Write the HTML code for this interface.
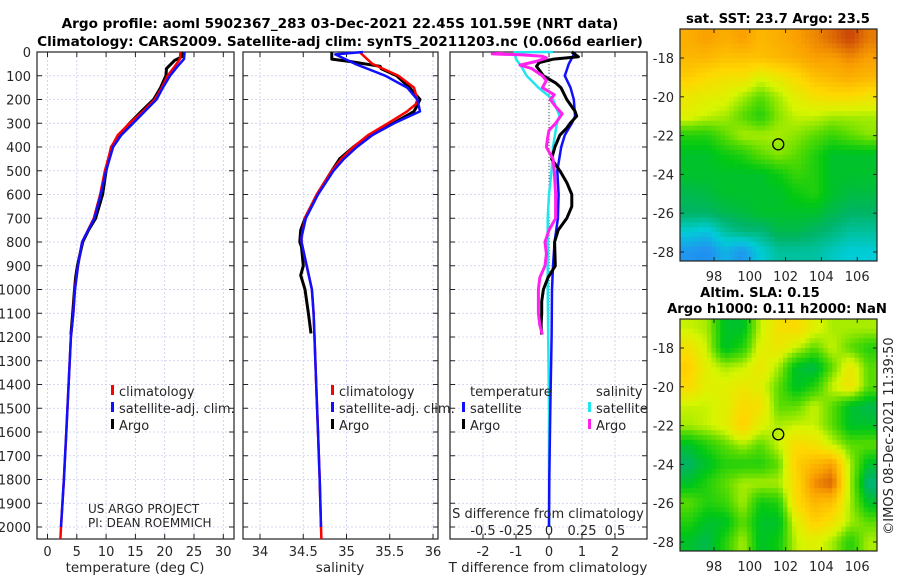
<!DOCTYPE html>
<html><head><meta charset="utf-8">
<style>
html,body{margin:0;padding:0;background:#fff;}
svg{display:block;font-family:"DejaVu Sans","Liberation Sans",sans-serif;}
</style></head>
<body>
<svg id="fig" width="900" height="580" viewBox="0 0 900 580" xmlns="http://www.w3.org/2000/svg">
<g id="bg"></g>
</svg>
<script>
// ---------- DATA ----------
const depthTicks = [0,100,200,300,400,500,600,700,800,900,1000,1100,1200,1300,1400,1500,1600,1700,1800,1900,2000];
const tempTicks = [0,5,10,15,20,25,30];
const salTicks = [34,34.5,35,35.5,36];
const salTickLabels = ["34","34.5","35","35.5","36"];
const tdiffTicks = [-2,-1,0,1,2];
const sdiffTicks = [-0.5,-0.25,0,0.25,0.5];
const sdiffTickLabels = ["-0.5","-0.25","0","0.25","0.5"];

const climTempDepth = [0,30,60,100,150,200,250,300,350,400,500,600,700,800,900,1000,1100,1200,1400,1600,1800,2000,2050];
const climTempVal   = [22.7,22.6,21.7,20.5,19.5,18.3,16.3,14.0,12.0,10.9,9.8,9.0,7.9,5.9,5.2,4.65,4.4,4.0,3.6,3.2,2.8,2.3,2.2];
const satTempDepth  = [0,30,60,100,150,200,250,300,350,400,500,600,700,800,900,1000,1100,1200,1400,1600,1800,2000];
const satTempVal    = [23.4,23.3,22.2,20.9,19.7,18.6,16.6,14.6,12.6,11.2,10.0,9.1,8.0,5.9,5.2,4.7,4.4,4.0,3.6,3.2,2.8,2.3];
const argoTempDepth = [0,20,35,70,100,150,200,250,300,350,400,500,600,700,750,800,900,950,1000,1100,1190];
const argoTempVal   = [23.0,22.9,21.7,20.3,20.2,19.3,18.1,16.0,14.0,12.3,10.9,10.0,9.4,8.2,7.0,6.0,5.1,4.8,4.6,4.3,4.0];

const climSalDepth = [0,50,100,150,200,220,250,300,350,400,450,500,600,700,780,800,850,900,1000,1100,1200,1400,1600,1800,2000,2050];
const climSalVal   = [35.15,35.3,35.6,35.78,35.82,35.8,35.7,35.48,35.25,35.08,34.94,34.83,34.655,34.52,34.48,34.48,34.51,34.54,34.6,34.62,34.63,34.65,34.67,34.69,34.705,34.71];
const satSalDepth  = [0,10,50,100,150,200,250,300,350,400,450,500,600,700,780,800,850,900,1000,1100,1200,1400,1600,1800,2000];
const satSalVal    = [35.19,34.87,35.1,35.45,35.7,35.82,35.85,35.55,35.3,35.12,34.97,34.85,34.67,34.53,34.48,34.48,34.51,34.54,34.6,34.62,34.63,34.65,34.67,34.69,34.705];
const argoSalDepth = [0,30,40,60,70,100,150,200,230,250,300,350,400,450,500,600,700,750,800,820,900,940,1000,1100,1185];
const argoSalVal   = [34.83,34.83,35.04,35.39,35.4,35.58,35.73,35.85,35.81,35.78,35.54,35.27,35.08,34.92,34.83,34.66,34.52,34.47,34.46,34.48,34.5,34.47,34.52,34.56,34.59];

const satTdDepth  = [0,50,100,150,200,270,300,350,400,500,600,700,800,900,1000,1200,1500,1800,2000];
const satTdVal    = [0.79,0.6,0.48,0.65,0.75,0.79,0.69,0.48,0.37,0.25,0.29,0.27,0.17,0.12,0.09,0.08,0.04,0.01,0.0];
const argoTdDepth = [0,20,30,45,60,100,130,150,200,250,270,300,320,350,400,450,500,550,600,650,700,750,800,900,950,1000,1050,1100,1150,1190];
const argoTdVal   = [0.69,0.89,0.14,-0.3,-0.38,-0.17,0.2,0.36,0.54,0.79,0.84,0.64,0.54,0.33,0.18,0.08,0.33,0.54,0.69,0.69,0.54,0.28,0.17,0.19,-0.03,-0.17,-0.22,-0.22,-0.24,-0.22];
const satSdDepth  = [0,1,30,60,100,150,200,270,300,400,500,600,700,800,1000,1500,2000];
const satSdVal    = [0.03,-0.26,-0.25,-0.21,-0.17,-0.08,0.03,0.08,0.06,0.03,0.02,0.0,-0.01,-0.01,-0.01,0.0,0.0];
const argoSdDepth = [0,5,8,12,18,25,40,55,70,100,120,150,180,200,230,260,300,330,360,400,420,450,500,600,700,750,800,850,900,950,1000,1100,1150,1190];
const argoSdVal   = [-0.35,-0.35,-0.43,-0.2,-0.05,-0.02,-0.1,-0.22,-0.13,-0.05,-0.02,-0.05,0.04,0.01,0.05,0.1,0.05,0.0,-0.01,-0.02,0.0,0.03,0.04,0.05,0.05,0.0,-0.03,-0.02,-0.03,-0.07,-0.08,-0.08,-0.07,-0.05];

const sstGrid = [
[0.82,0.85,0.82,0.85,0.8,0.82,0.85,0.88,0.92,0.97,0.9],
[0.8,0.8,0.78,0.78,0.78,0.8,0.82,0.85,0.85,0.88,0.85],
[0.75,0.72,0.7,0.7,0.64,0.68,0.72,0.78,0.8,0.82,0.8],
[0.68,0.66,0.65,0.6,0.55,0.6,0.66,0.7,0.72,0.72,0.7],
[0.65,0.62,0.6,0.55,0.5,0.58,0.62,0.62,0.6,0.6,0.6],
[0.5,0.5,0.55,0.6,0.6,0.6,0.58,0.55,0.52,0.55,0.58],
[0.45,0.45,0.48,0.5,0.55,0.58,0.55,0.5,0.45,0.45,0.45],
[0.45,0.45,0.45,0.45,0.45,0.48,0.52,0.5,0.45,0.45,0.45],
[0.42,0.43,0.45,0.45,0.45,0.45,0.48,0.5,0.45,0.43,0.43],
[0.4,0.4,0.42,0.43,0.45,0.45,0.45,0.45,0.42,0.4,0.4],
[0.3,0.28,0.35,0.38,0.38,0.42,0.42,0.4,0.38,0.35,0.35],
[0.2,0.18,0.25,0.2,0.3,0.35,0.35,0.35,0.32,0.3,0.3]];
const slaGrid = [
[0.62,0.6,0.45,0.45,0.62,0.7,0.72,0.65,0.6,0.6,0.6],
[0.7,0.62,0.45,0.5,0.65,0.68,0.62,0.55,0.62,0.55,0.5],
[0.75,0.65,0.6,0.62,0.68,0.6,0.45,0.42,0.55,0.68,0.55],
[0.72,0.65,0.65,0.68,0.65,0.55,0.45,0.5,0.62,0.7,0.55],
[0.62,0.62,0.65,0.72,0.7,0.55,0.55,0.62,0.55,0.45,0.42],
[0.6,0.62,0.65,0.75,0.65,0.6,0.62,0.62,0.55,0.45,0.45],
[0.45,0.5,0.55,0.6,0.55,0.62,0.72,0.7,0.62,0.55,0.55],
[0.4,0.45,0.5,0.5,0.5,0.55,0.75,0.8,0.85,0.6,0.45],
[0.45,0.5,0.55,0.6,0.6,0.6,0.72,0.88,0.93,0.6,0.38],
[0.55,0.5,0.52,0.6,0.48,0.5,0.72,0.8,0.78,0.6,0.45],
[0.5,0.45,0.45,0.55,0.45,0.45,0.65,0.75,0.7,0.6,0.55],
[0.45,0.42,0.5,0.6,0.45,0.48,0.62,0.65,0.6,0.5,0.6]];
const lonTicks = [98,100,102,104,106];
const latTicks = [-18,-20,-22,-24,-26,-28];
const argoLon = 101.59, argoLat = -22.45;

// ---------- HELPERS ----------
const NS = "http://www.w3.org/2000/svg";
const svg = document.getElementById('fig');
function mk(tag, attrs, parent){ const e=document.createElementNS(NS,tag); for(const k in attrs) e.setAttribute(k,attrs[k]); (parent||svg).appendChild(e); return e; }
function txt(s, x, y, attrs, parent){ const e=mk('text', Object.assign({x:x,y:y,'font-size':13,fill:'#262626'},attrs||{}), parent); e.textContent=s; return e; }

const TOP=52, PXM=0.2375, BOT=539;
const yD = d => TOP + d*PXM;
const panels = [
  {x0:37,x1:234,name:'temperature-panel'},
  {x0:243,x1:438,name:'salinity-panel'},
  {x0:450,x1:647,name:'difference-panel'}];
const xT = t => 47.5 + t*5.86;
const xS = s => 260 + (s-34)*86.5;
const xTd = v => 549 + v*33;
const xSd = v => 549 + v*132;

panels.forEach((p,i)=>{
  const g = mk('g',{});
  
  
  const gx = i===0 ? tempTicks.map(xT) : i===1 ? salTicks.map(xS) : tdiffTicks.map(xTd);
  gx.forEach(x=>{ const l=mk('line',{x1:x,x2:x,y1:TOP,y2:BOT,stroke:'#c8cbee','stroke-width':0.8,'stroke-dasharray':'2,2'},g);   });
  depthTicks.forEach(d=>{ const y=yD(d); const l=mk('line',{x1:p.x0,x2:p.x1,y1:y,y2:y,stroke:'#c8cbee','stroke-width':0.8,'stroke-dasharray':'2,2'},g);  
    mk('line',{x1:p.x0,x2:p.x0+5,y1:y,y2:y,stroke:'#222'},g); mk('line',{x1:p.x1-5,x2:p.x1,y1:y,y2:y,stroke:'#222'},g); });
  gx.forEach(x=>{ mk('line',{x1:x,x2:x,y1:BOT,y2:BOT-5,stroke:'#222'},g); mk('line',{x1:x,x2:x,y1:TOP,y2:TOP+5,stroke:'#222'},g); });
  const f = mk('rect',{x:p.x0,y:TOP,width:p.x1-p.x0,height:BOT-TOP,fill:'none',stroke:'#222','stroke-width':1.2},g);
  
  
});

depthTicks.forEach(d=>{ const t=txt(String(d),31,yD(d)+5,{'text-anchor':'end'});   });
tempTicks.forEach(v=>{ const t=txt(String(v),xT(v),556,{'text-anchor':'middle'});   });
salTicks.forEach((v,i)=>{ const t=txt(salTickLabels[i],xS(v),556,{'text-anchor':'middle'});   });
tdiffTicks.forEach(v=>{ const t=txt(String(v),xTd(v),556,{'text-anchor':'middle'});   });
sdiffTicks.forEach((v,i)=>{ const t=txt(sdiffTickLabels[i],xSd(v),535,{'text-anchor':'middle'});   });

{ const l=mk('line',{x1:xTd(0),x2:xTd(0),y1:TOP,y2:yD(1200),stroke:'#444','stroke-width':1,'stroke-dasharray':'1,2'});   }

function series(depths, vals, xf, color, w, name){
  const pts = depths.map((d,i)=> xf(vals[i]).toFixed(1)+','+yD(d).toFixed(1)).join(' ');
  const pl = mk('polyline',{points:pts,fill:'none',stroke:color,'stroke-width':w,'stroke-linejoin':'round'});
  
  
}
series(argoTempDepth, argoTempVal, xT, '#000', 3, 'argo-temperature-line');
series(climTempDepth, climTempVal, xT, '#f00', 2.5, 'climatology-temperature-line');
series(satTempDepth, satTempVal, xT, '#1010ff', 2.5, 'satellite-temperature-line');
series(argoSalDepth, argoSalVal, xS, '#000', 3, 'argo-salinity-line');
series(climSalDepth, climSalVal, xS, '#f00', 2.5, 'climatology-salinity-line');
series(satSalDepth, satSalVal, xS, '#1010ff', 2.5, 'satellite-salinity-line');
series(satSdDepth, satSdVal, xSd, '#22e5ee', 2.5, 'satellite-salinity-diff-line');
series(satTdDepth, satTdVal, xTd, '#1010ff', 2.5, 'satellite-temperature-diff-line');
series(argoTdDepth, argoTdVal, xTd, '#000', 3, 'argo-temperature-diff-line');
series(argoSdDepth, argoSdVal, xSd, '#ff22ee', 3, 'argo-salinity-diff-line');

function legendEntry(x,y,color,label,name){
  const g = mk('g',{});
  
  
  mk('rect',{x:x-8,y:y-11,width:3,height:10,fill:color},g);
  txt(label,x,y,{'font-size':13},g);
}
legendEntry(119,396,'#f00','climatology','legend-climatology');
legendEntry(119,413,'#1010ff','satellite-adj. clim.','legend-satellite-adj');
legendEntry(119,430,'#000','Argo','legend-argo');
legendEntry(339,396,'#f00','climatology','legend-climatology-salinity');
legendEntry(339,413,'#1010ff','satellite-adj. clim.','legend-satellite-adj-salinity');
legendEntry(339,430,'#000','Argo','legend-argo-salinity');
{ const t=txt('temperature',470,396);   }
{ const t=txt('salinity',596,396);   }
legendEntry(470,413,'#1010ff','satellite','legend-temp-satellite');
legendEntry(470,430,'#000','Argo','legend-temp-argo');
legendEntry(596,413,'#22e5ee','satellite','legend-sal-satellite');
legendEntry(596,430,'#ff22ee','Argo','legend-sal-argo');

{ const t=txt('US ARGO PROJECT',88,513,{'font-size':12});   }
{ const t=txt('PI: DEAN ROEMMICH',88,527,{'font-size':12});   }
{ const t=txt('S difference from climatology',548,518,{'text-anchor':'middle','font-size':13});   }
{ const t=txt('temperature (deg C)',135,572,{'text-anchor':'middle','font-size':13.5});   }
{ const t=txt('salinity',340,572,{'text-anchor':'middle','font-size':13.5});   }
{ const t=txt('T difference from climatology',548,572,{'text-anchor':'middle','font-size':13.5});   }
{ const t=txt('Argo profile: aoml 5902367_283 03-Dec-2021 22.45S 101.59E (NRT data)',340,28,{'text-anchor':'middle','font-weight':'bold','fill':'#000','font-size':13.6});   }
{ const t=txt('Climatology: CARS2009. Satellite-adj clim: synTS_20211203.nc (0.066d earlier)',340,46,{'text-anchor':'middle','font-weight':'bold','fill':'#000','font-size':13.6});   }

// ---------- MAPS ----------
const stops = [[0,[16,80,225]],[0.2,[32,150,240]],[0.3,[0,205,215]],[0.4,[0,180,100]],[0.47,[0,200,20]],[0.55,[90,220,0]],[0.63,[215,245,0]],[0.73,[255,215,0]],[0.85,[250,160,0]],[1,[190,45,10]]];
function cmap(v){ v=Math.max(0,Math.min(1,v)); for(let i=1;i<stops.length;i++){ if(v<=stops[i][0]){ const a=stops[i-1],b=stops[i]; const f=(v-a[0])/(b[0]-a[0]); const c=a[1].map((x,j)=>Math.round(x+(b[1][j]-x)*f)); return 'rgb('+c.join(',')+')'; } } return 'rgb(190,45,10)'; }
function drawMap(grid, X0, Y0, X1, Y1, name, lat18y){
  const g = mk('g',{});
  
  
  const R=grid.length, C=grid[0].length, sub=4;
  const cw=(X1-X0)/(C*sub), ch=(Y1-Y0)/(R*sub);
  for(let r=0;r<R*sub;r++) for(let c=0;c<C*sub;c++){
    const fr=(r+0.5)/sub-0.5, fc=(c+0.5)/sub-0.5;
    const r0=Math.max(0,Math.min(R-1,Math.floor(fr))), r1=Math.min(R-1,r0+1), c0=Math.max(0,Math.min(C-1,Math.floor(fc))), c1=Math.min(C-1,c0+1);
    const tr=Math.max(0,Math.min(1,fr-r0)), tc=Math.max(0,Math.min(1,fc-c0));
    const v=(grid[r0][c0]*(1-tc)+grid[r0][c1]*tc)*(1-tr)+(grid[r1][c0]*(1-tc)+grid[r1][c1]*tc)*tr;
    mk('rect',{x:(X0+c*cw).toFixed(2),y:(Y0+r*ch).toFixed(2),width:(cw+0.4).toFixed(2),height:(ch+0.4).toFixed(2),fill:cmap(v)},g);
  }
  mk('rect',{x:X0,y:Y0,width:X1-X0,height:Y1-Y0,fill:'none',stroke:'#222','stroke-width':1.2},g);
  const xL = lon => 714 + (lon-98)*17.9;
  const yL = lat => lat18y + (-18-lat)*19.4;
  lonTicks.forEach(l=>{ const x=xL(l); mk('line',{x1:x,x2:x,y1:Y1,y2:Y1-4,stroke:'#222'},g); mk('line',{x1:x,x2:x,y1:Y0,y2:Y0+4,stroke:'#222'},g);
    const t=txt(String(l),x,Y1+20,{'text-anchor':'middle'},g);   });
  latTicks.forEach(l=>{ const y=yL(l); mk('line',{x1:X0,x2:X0+4,y1:y,y2:y,stroke:'#222'},g); mk('line',{x1:X1,x2:X1-4,y1:y,y2:y,stroke:'#222'},g);
    const t=txt(String(l),674,y+5,{'text-anchor':'end'},g);   });
  const m = mk('circle',{cx:xL(argoLon),cy:yL(argoLat),r:5.5,fill:'none',stroke:'#000','stroke-width':1.3},g);
  
  
}
drawMap(sstGrid,680,29,877,261,'sst-map',58);
drawMap(slaGrid,680,319,877,551,'sla-map',348);
{ const t=txt('sat. SST: 23.7 Argo: 23.5',778,23,{'text-anchor':'middle','font-weight':'bold','fill':'#000','font-size':13.2});   }
{ const t=txt('Altim. SLA: 0.15',760,297,{'text-anchor':'middle','font-weight':'bold','fill':'#000','font-size':13.2});   }
{ const t=txt('Argo h1000: 0.11 h2000: NaN',777,313,{'text-anchor':'middle','font-weight':'bold','fill':'#000','font-size':13.2});   }
{ const t=txt('©IMOS 08-Dec-2021 11:39:50',893,436,{'text-anchor':'middle','transform':'rotate(-90 893 436)','font-size':13});   }
</script>
</body></html>
